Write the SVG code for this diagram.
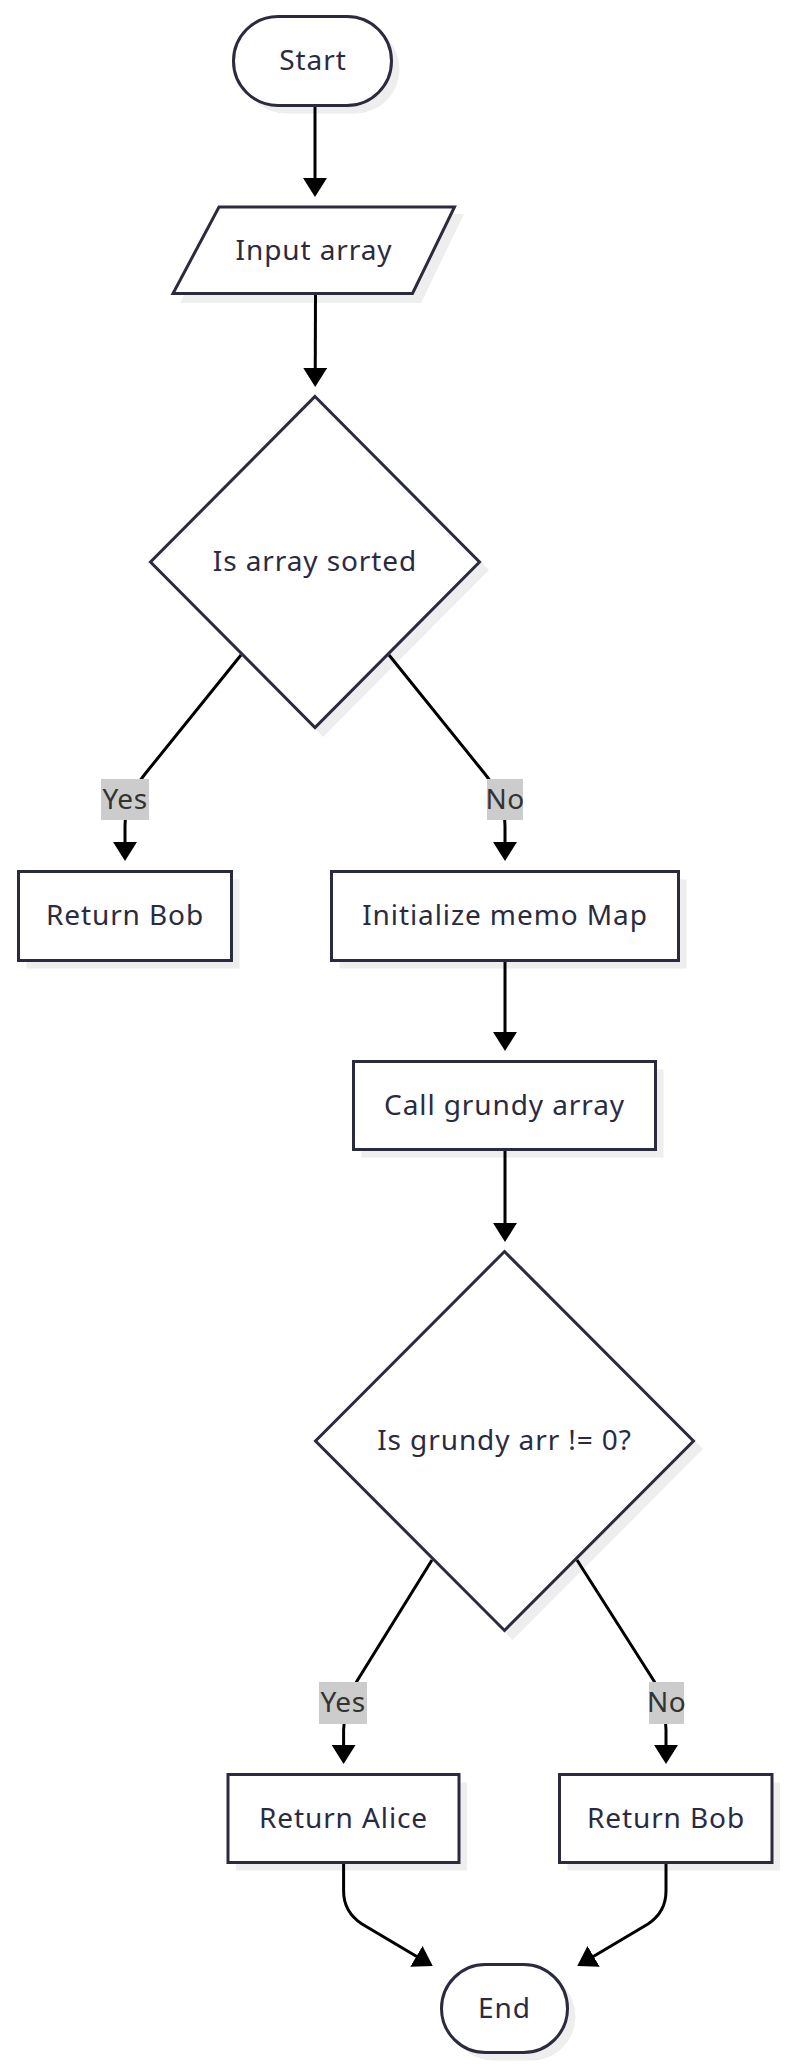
<svg xmlns="http://www.w3.org/2000/svg" width="791" height="2070" viewBox="0 0 791 2070">
<style>
.node{fill:#ffffff;stroke:#2b2b3f;stroke-width:3}
.shadow{fill:#eeeeee;stroke:none}
.label{font-family:"Noto Sans","Liberation Sans",sans-serif;font-size:28px;letter-spacing:0.9px;fill:#2b2b3f;text-anchor:middle;dominant-baseline:central}
.edge{fill:none;stroke:#000000;stroke-width:3}
.elbg{fill:#cccccc}
.eltext{font-family:"Noto Sans","Liberation Sans",sans-serif;font-size:28px;letter-spacing:0.5px;fill:#333333;text-anchor:middle;dominant-baseline:central}
</style>
<defs>
<marker id="arrow" viewBox="0 0 10 10" refX="7.4" refY="5" markerUnits="userSpaceOnUse" markerWidth="19" markerHeight="24" preserveAspectRatio="none" orient="auto">
<path d="M0,0 L10,5 L0,10 z" fill="#000000"/>
</marker>
</defs>
<rect width="791" height="2070" fill="#ffffff"/>

<g id="shadows">
<rect class="shadow" x="241.5" y="24.5" width="158" height="89" rx="44.5"/>
<polygon class="shadow" points="226,214 464,214 421,303 180,303"/>
<polygon class="shadow" points="323,403 489,570 323,737 157,570"/>
<rect class="shadow" x="26.5" y="879.5" width="213" height="89"/>
<rect class="shadow" x="339.5" y="879.5" width="347" height="89"/>
<rect class="shadow" x="361.5" y="1069.5" width="302" height="88"/>
<polygon class="shadow" points="512.5,1258 703,1449 512.5,1640 322,1449"/>
<rect class="shadow" x="236" y="1782.5" width="231" height="88"/>
<rect class="shadow" x="567.5" y="1782.5" width="212.5" height="88"/>
<rect class="shadow" x="449.5" y="1972.5" width="126" height="88" rx="44"/>
</g>

<g id="connectors">
<path class="edge" d="M315,107 L315,192" marker-end="url(#arrow)"/>
<path class="edge" d="M315.5,295 L315.2,382" marker-end="url(#arrow)"/>
<path class="edge" d="M241,655 L145,774 Q125,799 125,826 L125,856" marker-end="url(#arrow)"/>
<path class="edge" d="M389,655 L485,774 Q505,799 505,826 L505,856" marker-end="url(#arrow)"/>
<path class="edge" d="M505,962 L505,1046" marker-end="url(#arrow)"/>
<path class="edge" d="M505,1151 L505,1237" marker-end="url(#arrow)"/>
<path class="edge" d="M432,1560 L357,1681 Q344,1705 343.6,1730 L343.6,1759" marker-end="url(#arrow)"/>
<path class="edge" d="M577,1560 L654,1681 Q666,1705 666,1730 L666,1759" marker-end="url(#arrow)"/>
<path class="edge" d="M343.6,1864 L343.6,1891 Q343.6,1912 362,1924 L428.5,1963.5" marker-end="url(#arrow)"/>
<path class="edge" d="M666,1864 L666,1891 Q666,1912 648,1924 L581.5,1963.5" marker-end="url(#arrow)"/>
</g>

<g id="edge-labels">
<rect class="elbg" x="101" y="779" width="48" height="41"/>
<text class="eltext" x="125" y="798">Yes</text>
<rect class="elbg" x="487" y="779" width="36" height="41"/>
<text class="eltext" x="505" y="798">No</text>
<rect class="elbg" x="319" y="1682" width="48" height="42"/>
<text class="eltext" x="343" y="1701">Yes</text>
<rect class="elbg" x="649" y="1682" width="35" height="42"/>
<text class="eltext" x="666.5" y="1701">No</text>
</g>

<g id="start">
<rect class="node" x="233.5" y="16.5" width="158" height="89" rx="44.5"/>
<text class="label" x="313" y="59">Start</text>
</g>

<g id="input">
<polygon class="node" points="219,207 454.5,207 412.5,293.5 173,293.5"/>
<text class="label" x="314" y="249">Input array</text>
</g>

<g id="sorted">
<polygon class="node" points="315,396.5 479.5,562 315,727.5 150.5,562"/>
<text class="label" x="315" y="560">Is array sorted</text>
</g>

<g id="bob1">
<rect class="node" x="18.5" y="871.5" width="213" height="89"/>
<text class="label" x="125" y="914">Return Bob</text>
</g>

<g id="memo">
<rect class="node" x="331.5" y="871.5" width="347" height="89"/>
<text class="label" x="505" y="914">Initialize memo Map</text>
</g>

<g id="grundy">
<rect class="node" x="353.5" y="1061.5" width="302" height="88"/>
<text class="label" x="504.5" y="1103.5">Call grundy array</text>
</g>

<g id="check">
<polygon class="node" points="504.5,1251.5 693.5,1441 504.5,1630.5 315.5,1441"/>
<text class="label" x="504.5" y="1439">Is grundy arr != 0?</text>
</g>

<g id="alice">
<rect class="node" x="228" y="1774.5" width="231" height="88"/>
<text class="label" x="343.5" y="1816.5">Return Alice</text>
</g>

<g id="bob2">
<rect class="node" x="559.5" y="1774.5" width="212.5" height="88"/>
<text class="label" x="666" y="1816.5">Return Bob</text>
</g>

<g id="end">
<rect class="node" x="441.5" y="1964.5" width="126" height="88" rx="44"/>
<text class="label" x="504.5" y="2006.5">End</text>
</g>
</svg>
